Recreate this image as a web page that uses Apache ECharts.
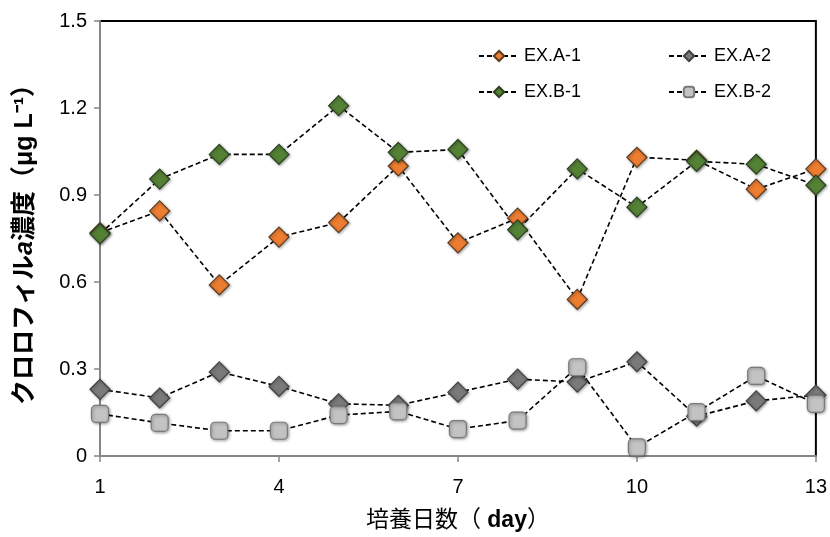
<!DOCTYPE html>
<html>
<head>
<meta charset="utf-8">
<script src="https://cdn.jsdelivr.net/npm/echarts@6/dist/echarts.min.js"></script>
<style>
  html, body { margin: 0; padding: 0; background: #fff; }
  #chart { width: 830px; height: 537px; }
</style>
</head>
<body>
<div id="chart"></div>
<script>
// Days of culture
const days = ['1', '2', '3', '4', '5', '6', '7', '8', '9', '10', '11', '12', '13'];

// Chlorophyll a concentration (µg/L)
const exA1 = [0.77, 0.845, 0.59, 0.755, 0.805, 1.0, 0.735, 0.82, 0.54, 1.03, 1.02, 0.92, 0.99];
const exA2 = [0.23, 0.20, 0.29, 0.24, 0.18, 0.175, 0.22, 0.265, 0.255, 0.325, 0.137, 0.19, 0.21];
const exB1 = [0.766, 0.955, 1.04, 1.04, 1.208, 1.047, 1.057, 0.78, 0.99, 0.858, 1.016, 1.006, 0.934];
const exB2 = [0.145, 0.114, 0.087, 0.087, 0.141, 0.154, 0.093, 0.122, 0.306, 0.03, 0.151, 0.276, 0.18];

const FONT = "'Liberation Sans', 'Noto Sans CJK JP', sans-serif";

const chart = echarts.init(document.getElementById('chart'));

const makeSeries = (name, data, symbol, fill, border, size) => ({
  name,
  type: 'line',
  data,
  symbol,
  symbolSize: size,
  lineStyle: { color: '#000', width: 1.6, type: [5, 3] },
  itemStyle: {
    color: fill,
    borderColor: border,
    borderWidth: 1.2,
    shadowBlur: 3,
    shadowColor: 'rgba(0,0,0,0.35)',
    shadowOffsetX: 1,
    shadowOffsetY: 1,
  },
  emphasis: { disabled: true },
  animation: false,
});

const legendText = { fontFamily: FONT, fontSize: 18, color: '#000' };

chart.setOption({
  backgroundColor: '#fff',
  animation: false,
  grid: {
    left: 100,
    right: 12,
    top: 21,
    bottom: 79,
    show: true,
    borderColor: '#000',
    borderWidth: 2,
    backgroundColor: 'transparent',
  },
  legend: [
    {
      left: 473,
      top: 42,
      orient: 'vertical',
      itemGap: 18,
      itemWidth: 40,
      itemHeight: 13,
      data: ['EX.A-1', 'EX.B-1'],
      textStyle: legendText,
    },
    {
      left: 663,
      top: 42,
      orient: 'vertical',
      itemGap: 18,
      itemWidth: 40,
      itemHeight: 13,
      data: ['EX.A-2', 'EX.B-2'],
      textStyle: legendText,
    },
  ],
  xAxis: {
    type: 'category',
    data: days,
    boundaryGap: false,
    name: '培養日数（ {b|day}）',
    nameLocation: 'middle',
    nameGap: 53,
    nameTextStyle: {
      fontFamily: FONT,
      fontSize: 23,
      color: '#000',
      rich: { b: { fontFamily: FONT, fontSize: 23, fontWeight: 'bold', color: '#000' } },
    },
    axisLine: { lineStyle: { color: '#868686', width: 2 } },
    axisTick: { interval: 2, length: 6, lineStyle: { color: '#868686', width: 1.5 } },
    axisLabel: { interval: 2, margin: 21, fontFamily: FONT, fontSize: 20, color: '#000' },
    splitLine: { show: false },
  },
  yAxis: {
    type: 'value',
    min: 0,
    max: 1.5,
    interval: 0.3,
    name: 'クロロフィル{i|a}濃度（μg L⁻¹）',
    nameLocation: 'middle',
    nameGap: 62,
    nameTextStyle: {
      fontFamily: FONT,
      fontSize: 25,
      fontWeight: 'bold',
      color: '#000',
      rich: { i: { fontFamily: FONT, fontSize: 25, fontWeight: 'bold', fontStyle: 'italic', color: '#000' } },
    },
    axisLine: { show: true, lineStyle: { color: '#868686', width: 2 } },
    axisTick: { show: true, length: 6, lineStyle: { color: '#868686', width: 1.5 } },
    axisLabel: { margin: 13, fontFamily: FONT, fontSize: 20, color: '#000' },
    splitLine: { show: false },
  },
  series: [
    makeSeries('EX.A-1', exA1, 'diamond', '#ED7D31', '#5a3a20', 20),
    makeSeries('EX.A-2', exA2, 'diamond', '#7a7a7a', '#404040', 20),
    makeSeries('EX.B-1', exB1, 'diamond', '#548235', '#2c4020', 20),
    makeSeries('EX.B-2', exB2, 'roundRect', '#c3c3c3', '#7a7a7a', 17),
  ],
});
</script>
</body>
</html>
